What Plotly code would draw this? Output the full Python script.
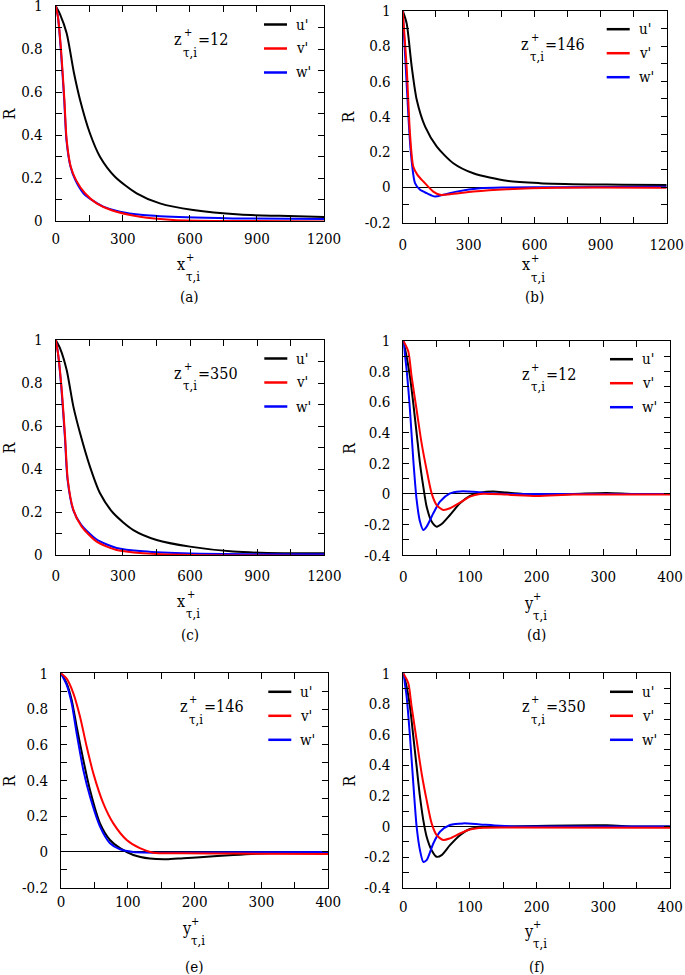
import plotly.graph_objects as go

# ---------------- data ----------------
# (a) x+, z+=12
a_u_x = [0, 20, 49, 82, 109, 153, 198, 265, 362, 466, 615, 823, 1000, 1200]
a_u_R = [1, 0.96, 0.873, 0.687, 0.563, 0.408, 0.299, 0.206, 0.129, 0.082, 0.051, 0.030, 0.024, 0.019]
a_v_x = [0, 10, 24, 39, 49, 67, 91, 131, 183, 250, 377, 525, 800, 1200]
a_v_R = [1, 0.95, 0.795, 0.563, 0.377, 0.253, 0.19, 0.129, 0.082, 0.05, 0.02, 0.005, 0.0, -0.002]
a_w_x = [0, 10, 23, 38, 48, 66, 88, 124, 161, 213, 287, 391, 585, 793, 1200]
a_w_R = [1, 0.95, 0.795, 0.563, 0.377, 0.253, 0.19, 0.129, 0.098, 0.067, 0.043, 0.028, 0.017, 0.012, 0.009]

# (b) x+, z+=146
b_u_x = [0, 18, 41, 64, 102, 155, 230, 321, 473, 624, 852, 1000, 1200]
b_u_R = [1, 0.928, 0.683, 0.494, 0.343, 0.230, 0.136, 0.079, 0.036, 0.023, 0.016, 0.014, 0.013]
b_v_x = [0, 18, 33, 48, 67, 94, 139, 170, 215, 321, 473, 700, 1200]
b_v_R = [1, 0.68, 0.306, 0.117, 0.07, 0.032, -0.025, -0.043, -0.04, -0.025, -0.012, -0.003, -0.003]
b_w_x = [0, 18, 36, 56, 79, 109, 147, 185, 245, 352, 473, 700, 1200]
b_w_R = [1, 0.585, 0.211, 0.023, -0.015, -0.034, -0.053, -0.043, -0.025, -0.006, -0.002, 0.0, 0.003]

# (c) x+, z+=350
c_u_x = [0, 20, 49, 79, 109, 153, 198, 258, 347, 451, 600, 793, 1017, 1200]
c_u_R = [1, 0.96, 0.86, 0.69, 0.566, 0.411, 0.287, 0.194, 0.116, 0.07, 0.039, 0.016, 0.008, 0.008]
c_v_x = [0, 10, 26, 42, 54, 79, 116, 183, 272, 391, 600, 1200]
c_v_R = [1, 0.94, 0.78, 0.55, 0.35, 0.21, 0.132, 0.062, 0.023, 0.008, 0.0, -0.003]
c_w_x = [0, 10, 25, 41, 53, 78, 114, 183, 272, 391, 600, 1200]
c_w_R = [1, 0.94, 0.78, 0.55, 0.35, 0.21, 0.14, 0.072, 0.033, 0.017, 0.007, 0.003]

# (d) y+, z+=12
d_u_x = [0, 5, 10, 15, 20, 25, 30, 35, 42.5, 50, 57.5, 70, 85, 100, 115, 135, 155, 180, 205, 255, 305, 345, 400]
d_u_R = [1, 0.896, 0.765, 0.59, 0.396, 0.2, 0.048, -0.083, -0.18, -0.213, -0.196, -0.137, -0.061, -0.013,
         0.009, 0.017, 0.009, 0, -0.004, 0, 0.007, 0, 0]
d_v_x = [0, 7.5, 12.5, 20, 27.5, 35, 42.5, 50, 60, 70, 85, 100, 115, 155, 200, 255, 400]
d_v_R = [1, 0.93, 0.765, 0.548, 0.33, 0.157, 0.004, -0.072, -0.104, -0.093, -0.057, -0.017, 0, -0.004,
         -0.013, -0.004, -0.004]
d_w_x = [0, 5, 10, 15, 20, 25, 30, 35, 45, 55, 70, 85, 105, 130, 155, 400]
d_w_R = [1, 0.809, 0.548, 0.222, -0.039, -0.18, -0.235, -0.213, -0.126, -0.05, 0.004, 0.017, 0.015, 0.004, 0, 0]

# (e) y+, z+=146
e_u_x = [0, 8.5, 16, 23.4, 33.4, 43.4, 58.4, 73.3, 88.3, 108.2, 133, 158, 183, 208, 258, 308, 400]
e_u_R = [1, 0.944, 0.851, 0.702, 0.515, 0.347, 0.16, 0.067, 0.021, -0.017, -0.037, -0.041, -0.035, -0.03,
         -0.017, -0.007, -0.002]
e_v_x = [0, 8.5, 18.5, 28.4, 38.4, 48.4, 63.3, 78.3, 98.3, 118, 138, 183, 258, 400]
e_v_R = [1, 0.97, 0.888, 0.758, 0.59, 0.44, 0.272, 0.16, 0.067, 0.021, -0.004, -0.007, -0.009, -0.011]
e_w_x = [0, 8.5, 16, 23.4, 33.4, 43.4, 58.4, 73.3, 88.3, 108, 158, 258, 400]
e_w_R = [1, 0.935, 0.832, 0.664, 0.459, 0.31, 0.142, 0.049, 0.015, 0, -0.004, -0.002, 0]

# (f) y+, z+=350
f_u_x = [0, 5, 10, 15, 20, 25, 30, 35, 42.5, 50, 57.5, 70, 85, 100, 120, 155, 305, 345, 400]
f_u_R = [1, 0.913, 0.782, 0.588, 0.39, 0.194, 0.041, -0.067, -0.155, -0.198, -0.187, -0.122, -0.057,
         -0.017, -0.004, 0, 0.007, 0, 0]
f_v_x = [0, 7.5, 12.5, 20, 27.5, 35, 42.5, 50, 60, 70, 85, 100, 120, 155, 400]
f_v_R = [1, 0.935, 0.782, 0.564, 0.346, 0.172, 0.02, -0.057, -0.089, -0.078, -0.046, -0.02, -0.009, -0.007, -0.009]
f_w_x = [0, 5, 10, 15, 20, 25, 30, 35, 45, 55, 70, 90, 115, 145, 180, 400]
f_w_R = [1, 0.848, 0.588, 0.281, -0.002, -0.155, -0.231, -0.22, -0.111, -0.035, 0.009, 0.02, 0.013, 0.004, 0, 0]

series_names = ["u'", "v'", "w'"]
panel_letters = ["a", "b", "c", "d", "e", "f"]
z_values = ["12", "146", "350", "12", "146", "350"]
x_vars = ["x", "x", "x", "y", "y", "y"]

x_ticks_long = [0, 300, 600, 900, 1200]
x_ticks_short = [0, 100, 200, 300, 400]
y_ticks_0 = [0, 0.2, 0.4, 0.6, 0.8, 1]
y_labels_0 = ["0", "0.2", "0.4", "0.6", "0.8", "1"]
y_ticks_m2 = [-0.2, 0, 0.2, 0.4, 0.6, 0.8, 1]
y_labels_m2 = ["-0.2", "0", "0.2", "0.4", "0.6", "0.8", "1"]
y_ticks_m4 = [-0.4, -0.2, 0, 0.2, 0.4, 0.6, 0.8, 1]
y_labels_m4 = ["-0.4", "-0.2", "0", "0.2", "0.4", "0.6", "0.8", "1"]

data = {
    "a": [(a_u_x, a_u_R), (a_v_x, a_v_R), (a_w_x, a_w_R)],
    "b": [(b_u_x, b_u_R), (b_v_x, b_v_R), (b_w_x, b_w_R)],
    "c": [(c_u_x, c_u_R), (c_v_x, c_v_R), (c_w_x, c_w_R)],
    "d": [(d_u_x, d_u_R), (d_v_x, d_v_R), (d_w_x, d_w_R)],
    "e": [(e_u_x, e_u_R), (e_v_x, e_v_R), (e_w_x, e_w_R)],
    "f": [(f_u_x, f_u_R), (f_v_x, f_v_R), (f_w_x, f_w_R)],
}

# ---------------- layout (pixel geometry) ----------------
W, H = 685, 975
FONT = "DejaVu Serif Condensed, DejaVu Serif, serif"
COLORS = ["#000000", "#ff0000", "#0000ff"]


def px(x):
    return x / W


def py(y):
    return 1 - y / H


geom = {
    "a": dict(l=55.7, r=324.0, t=6.0, b=221.0, xr=[0, 1200], yr=[0, 1], xt=x_ticks_long, xm=150,
              yt=(y_ticks_0, y_labels_0), xs=4, ys=9, ry=9, xty=264, cap=297),
    "b": dict(l=402.7, r=666.7, t=10.7, b=222.5, xr=[0, 1200], yr=[-0.2, 1], xt=x_ticks_long, xm=150,
              yt=(y_ticks_m2, y_labels_m2), xs=8, ys=8, ry=349, xty=265, cap=297),
    "c": dict(l=55.7, r=324.3, t=340.0, b=555.0, xr=[0, 1200], yr=[0, 1], xt=x_ticks_long, xm=150,
              yt=(y_ticks_0, y_labels_0), xs=7, ys=9, ry=9, xty=601, cap=635),
    "d": dict(l=403.3, r=670.0, t=340.7, b=555.3, xr=[0, 400], yr=[-0.4, 1], xt=x_ticks_short, xm=50,
              yt=(y_ticks_m4, y_labels_m4), xs=8, ys=9, ry=349, xty=603, cap=635),
    "e": dict(l=61.0, r=328.3, t=673.3, b=887.7, xr=[0, 400], yr=[-0.2, 1], xt=x_ticks_short, xm=50,
              yt=(y_ticks_m2, y_labels_m2), xs=0, ys=9, ry=9, xty=928, cap=967),
    "f": dict(l=403.3, r=670.0, t=673.3, b=887.7, xr=[0, 400], yr=[-0.4, 1], xt=x_ticks_short, xm=50,
              yt=(y_ticks_m4, y_labels_m4), xs=5, ys=9, ry=349, xty=931, cap=967),
}

fig = go.Figure()
annotations = []
shapes = []


def txt(x, y, text, size, xanchor="left", textangle=0):
    annotations.append(dict(
        x=px(x), y=py(y), xref="paper", yref="paper", text=text, showarrow=False,
        xanchor=xanchor, yanchor="middle", textangle=textangle, borderpad=0,
        font=dict(family=FONT, size=size, color="black")))


def stacked(base, xl, yc, rest=""):
    # base letter with '+' superscript stacked above the 'τ,i' subscript
    txt(xl, yc, base, 16)
    txt(xl + 9.5, yc - 7, "+", 11)
    txt(xl + 9, yc + 12.5, "τ,i", 13)
    if rest:
        txt(xl + 24, yc, rest, 16)


for i, key in enumerate(panel_letters):
    g = geom[key]
    n = "" if i == 0 else str(i + 1)
    xa, ya = "x" + n, "y" + n
    for k in [0, 2, 1]:
        xs_, ys_ = data[key][k]
        fig.add_trace(go.Scatter(
            x=xs_, y=ys_, mode="lines", name=series_names[k], showlegend=False,
            line=dict(color=COLORS[k], width=2, shape="spline", smoothing=0.7),
            xaxis=xa, yaxis=ya))

    axis_common = dict(
        showline=True, linecolor="black", linewidth=1, mirror="allticks",
        ticks="inside", ticklen=6, tickwidth=1, tickcolor="black",
        showgrid=False, tickfont=dict(family=FONT, size=15, color="black"),
        ticklabeloverflow="allow",
    )
    fig.layout["xaxis" + n] = dict(
        axis_common, domain=[px(g["l"]), px(g["r"])], anchor=ya, range=g["xr"],
        tickmode="array", tickvals=g["xt"], ticktext=[str(v) for v in g["xt"]],
        minor=dict(dtick=g["xm"], tick0=0, ticks="inside", ticklen=6, tickcolor="black", showgrid=False),
        zeroline=False, ticklabelstandoff=g["xs"])
    fig.layout["yaxis" + n] = dict(
        axis_common, domain=[py(g["b"]), py(g["t"])], anchor=xa, range=g["yr"],
        tickmode="array", tickvals=g["yt"][0], ticktext=g["yt"][1],
        minor=dict(dtick=0.1, tick0=0, ticks="inside", ticklen=6, tickcolor="black", showgrid=False),
        zeroline=True, zerolinecolor="black", zerolinewidth=1, ticklabelstandoff=g["ys"])

    txt(g["ry"], (g["t"] + g["b"]) / 2, "R", 16, xanchor="center", textangle=-90)
    cx = (g["l"] + g["r"]) / 2
    stacked(x_vars[i], cx - 14, g["xty"])
    txt(cx, g["cap"], "(" + key + ")", 15, xanchor="center")
    stacked("z", g["l"] + 117.5, g["t"] + 33.5, "=" + z_values[i])
    rows = [18.5, 42.5, 66.5]
    for k in range(3):
        yy = g["t"] + rows[k]
        shapes.append(dict(type="line", xref="paper", yref="paper",
                           x0=px(g["r"] - 60), x1=px(g["r"] - 37), y0=py(yy), y1=py(yy),
                           line=dict(color=COLORS[k], width=2.5)))
        txt(g["r"] - 29, yy, series_names[k], 15)

fig.update_layout(
    width=W, height=H, margin=dict(l=0, r=0, t=0, b=0, autoexpand=False),
    paper_bgcolor="white", plot_bgcolor="white",
    annotations=annotations, shapes=shapes, showlegend=False,
    font=dict(family=FONT, color="black"),
)

fig.write_html("out.html", config={"displayModeBar": False},
               post_script="document.body.style.margin='0px';document.body.style.padding='0px';")
